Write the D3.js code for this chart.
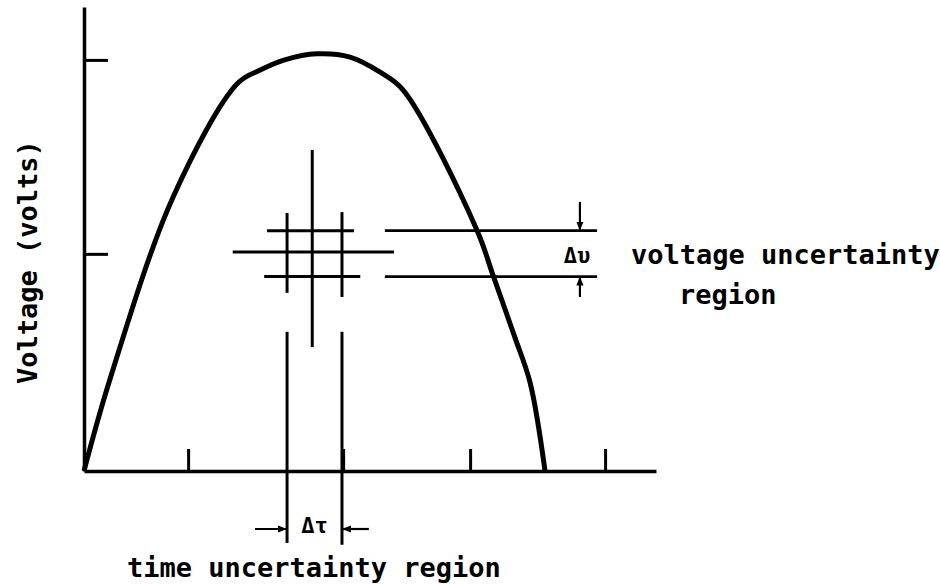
<!DOCTYPE html>
<html>
<head>
<meta charset="utf-8">
<script src="https://cdn.jsdelivr.net/npm/d3@7"></script>
<style>
  body { margin: 0; background: #fff; }
  text { font-family: "DejaVu Sans Mono", monospace; fill: #000; font-weight: bold; }
</style>
</head>
<body>
<div id="chart"></div>
<script>
// voltage pulse (arbitrary time / volt units)
var pulseTime = [0, 0.45, 1.56, 2.69, 3.08, 3.51, 4.07, 4.65, 5.17, 5.58, 6.87, 7.15, 7.53, 7.80, 8.06];
var pulseVolt = [0, 1.96, 5.91, 8.36, 8.64, 8.86, 8.99, 8.92, 8.60, 8.21, 5.19, 4.22, 2.89, 1.90, 0];

var xTicks = [1.82, 4.53, 6.75, 9.11];
var yTicks = [4.68, 8.86];

// measured point and its uncertainty bounds
var tMeasured = 3.99, tLow = 3.55, tHigh = 4.51;
var vMeasured = 4.72, vLow = 4.19, vHigh = 5.18;

var labels = {
    y: "Voltage (volts)",
    dv: "\u0394\u03c5",
    dt: "\u0394\u03c4",
    vRegion: ["voltage uncertainty", "region"],
    tRegion: "time uncertainty region"
};

var w = 940, h = 584;

var xScale = d3.scaleLinear().domain([0, 10]).range([84, 656]);
var yScale = d3.scaleLinear().domain([0, 10]).range([471, 7]);

var svg = d3.select("#chart").append("svg")
    .attr("width", w)
    .attr("height", h);

// axes, ticks pointing inward
var xAxis = d3.axisBottom(xScale).tickValues(xTicks).tickSize(-22).tickSizeOuter(0).tickFormat("");
var yAxis = d3.axisLeft(yScale).tickValues(yTicks).tickSize(-24).tickSizeOuter(0).tickFormat("");

svg.append("g")
    .attr("transform", "translate(0," + yScale(0) + ")")
    .call(xAxis);
svg.append("g")
    .attr("transform", "translate(" + xScale(0) + ",0)")
    .call(yAxis);

svg.selectAll(".domain").attr("stroke", "#000").attr("stroke-width", 3.5);
svg.selectAll(".tick line").attr("stroke", "#000").attr("stroke-width", 3);

// the pulse
var line = d3.line()
    .x(function(d) { return xScale(d[0]); })
    .y(function(d) { return yScale(d[1]); })
    .curve(d3.curveCatmullRom.alpha(0.5));

svg.append("path")
    .datum(d3.zip(pulseTime, pulseVolt))
    .attr("d", line)
    .attr("fill", "none")
    .attr("stroke", "#000")
    .attr("stroke-width", 5)
    .attr("stroke-linejoin", "round");

// helper for straight segments given in data units
function seg(x1, y1, x2, y2, sw) {
    svg.append("line")
        .attr("x1", xScale(x1)).attr("y1", yScale(y1))
        .attr("x2", xScale(x2)).attr("y2", yScale(y2))
        .attr("stroke", "#000")
        .attr("stroke-width", sw || 3);
}

// cross-hatch around the measured point
seg(tMeasured, 6.92, tMeasured, 2.67);
seg(tLow, 5.56, tLow, 3.84);
seg(tHigh, 5.58, tHigh, 3.75);
seg(3.20, vHigh, 4.72, vHigh);
seg(2.60, vMeasured, 5.42, vMeasured);
seg(3.15, vLow, 4.83, vLow);

// voltage band extension
seg(5.26, vHigh, 8.97, vHigh, 2.8);
seg(5.26, vLow, 8.97, vLow, 2.8);

// time band extension below the axis
seg(tLow, 3.00, tLow, -1.55);
seg(tHigh, 3.00, tHigh, -1.59);

// arrows
svg.append("defs").append("marker")
    .attr("id", "head")
    .attr("viewBox", "0 0 10 10")
    .attr("refX", 10).attr("refY", 5)
    .attr("markerWidth", 9).attr("markerHeight", 9)
    .attr("markerUnits", "userSpaceOnUse")
    .attr("orient", "auto")
    .append("path")
    .attr("d", "M0,1 L10,5 L0,9 Z")
    .attr("fill", "#000");

function arrow(x1, y1, x2, y2) {
    svg.append("line")
        .attr("x1", xScale(x1)).attr("y1", yScale(y1))
        .attr("x2", xScale(x2)).attr("y2", yScale(y2))
        .attr("stroke", "#000")
        .attr("stroke-width", 2.2)
        .attr("marker-end", "url(#head)");
}

arrow(8.67, 5.80, 8.67, vHigh);
arrow(8.67, 3.75, 8.67, vLow);
arrow(2.99, -1.25, tLow, -1.25);
arrow(4.98, -1.25, tHigh, -1.25);

// text
svg.append("text")
    .attr("transform", "translate(37," + yScale(4.5) + ") rotate(-90)")
    .attr("text-anchor", "middle")
    .attr("font-size", 27)
    .text(labels.y);

svg.append("text")
    .attr("x", xScale(8.62)).attr("y", yScale(vMeasured) + 11)
    .attr("text-anchor", "middle")
    .attr("font-size", 22)
    .text(labels.dv);

svg.append("text")
    .attr("x", (xScale(tLow) + xScale(tHigh)) / 2).attr("y", yScale(-1.33))
    .attr("text-anchor", "middle")
    .attr("font-size", 22)
    .text(labels.dt);

svg.append("text")
    .attr("x", 631).attr("y", 264)
    .attr("font-size", 27)
    .text(labels.vRegion[0]);
svg.append("text")
    .attr("x", 679).attr("y", 304)
    .attr("font-size", 27)
    .text(labels.vRegion[1]);

svg.append("text")
    .attr("x", 127).attr("y", 577)
    .attr("font-size", 27)
    .text(labels.tRegion);
</script>
</body>
</html>
